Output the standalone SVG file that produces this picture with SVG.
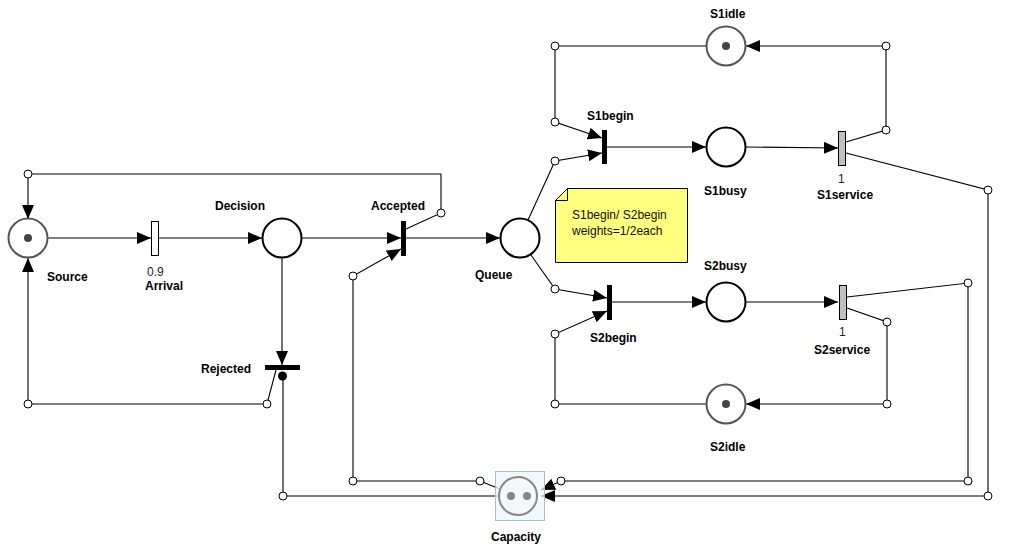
<svg xmlns="http://www.w3.org/2000/svg" width="1013" height="549" viewBox="0 0 1013 549">
  <style>
    .arc { fill: none; stroke: #000; stroke-width: 1.1; }
    .wp { fill: #fff; stroke: #000; stroke-width: 1; }
    .place { fill: #fff; stroke: #000; stroke-width: 2; }
    .marked { fill: #fff; stroke: #555; stroke-width: 2; }
    .token { fill: #444; }
    .imm { fill: #000; }
    .timed { fill: #fff; stroke: #000; stroke-width: 1; }
    .busy { fill: #c0c0c0; stroke: #000; stroke-width: 1; }
    .lbl { font-family: "Liberation Sans", Arial, sans-serif; font-size: 12px; font-weight: bold; fill: #000; }
    .num { font-family: "Liberation Sans", Arial, sans-serif; font-size: 12px; fill: #1a1a40; }
    .note { font-family: "Liberation Sans", Arial, sans-serif; font-size: 12px; fill: #111; }
  </style>
  <defs>
    <marker id="arrow" markerUnits="userSpaceOnUse" markerWidth="15" markerHeight="13" refX="14" refY="6" orient="auto">
      <path d="M0,0 L14,6 L0,12 z" fill="#000"/>
    </marker>
  </defs>
  <rect width="1013" height="549" fill="#fff"/>

  <!-- arcs -->
  <g id="connectors">
    <path class="arc" d="M48,238 L151,238" marker-end="url(#arrow)"/>
    <path class="arc" d="M159,238 L262,238" marker-end="url(#arrow)"/>
    <path class="arc" d="M302,238 L401,238" marker-end="url(#arrow)"/>
    <path class="arc" d="M282,258 L282,365" marker-end="url(#arrow)"/>
    <path class="arc" d="M276,370 L267,404 L28,404 L28,258" marker-end="url(#arrow)"/>
    <path class="arc" d="M406,229 L441,213 L441,174 L28,174 L28,219" marker-end="url(#arrow)"/>
    <path class="arc" d="M406,238 L500,238" marker-end="url(#arrow)"/>
    <path class="arc" d="M500,489 L480,481 L353,481 L353,276 L401,249" marker-end="url(#arrow)"/>
    <path class="arc" d="M528,220 L555,161 L602,153" marker-end="url(#arrow)"/>
    <path class="arc" d="M706,46 L555,46 L555,122 L602,138" marker-end="url(#arrow)"/>
    <path class="arc" d="M607,147 L706,147" marker-end="url(#arrow)"/>
    <path class="arc" d="M746,147 L838,148" marker-end="url(#arrow)"/>
    <path class="arc" d="M846,142 L886,130 L886,46 L746,46" marker-end="url(#arrow)"/>
    <path class="arc" d="M846,153 L988,190 L988,496 L541,496" marker-end="url(#arrow)"/>
    <path class="arc" d="M531,255 L555,289 L607,298" marker-end="url(#arrow)"/>
    <path class="arc" d="M706,404 L555,404 L555,334 L607,311" marker-end="url(#arrow)"/>
    <path class="arc" d="M612,302 L706,302" marker-end="url(#arrow)"/>
    <path class="arc" d="M746,302 L838,302" marker-end="url(#arrow)"/>
    <path class="arc" d="M847,308 L887,322 L887,404 L746,404" marker-end="url(#arrow)"/>
    <path class="arc" d="M847,297 L968,283 L968,481 L561,481 L541,490" marker-end="url(#arrow)"/>
    <path class="arc" d="M499,496 L283,496 L283,380"/>
    <circle cx="282.5" cy="376" r="4.5" fill="#000"/>
    <!-- bend points -->
    <circle class="wp" cx="28" cy="174" r="4"/>
    <circle class="wp" cx="441" cy="213" r="4"/>
    <circle class="wp" cx="28" cy="404" r="4"/>
    <circle class="wp" cx="267" cy="404" r="4"/>
    <circle class="wp" cx="353" cy="276" r="4"/>
    <circle class="wp" cx="353" cy="481" r="4"/>
    <circle class="wp" cx="480" cy="481" r="4"/>
    <circle class="wp" cx="283" cy="496" r="4"/>
    <circle class="wp" cx="555" cy="161" r="4"/>
    <circle class="wp" cx="555" cy="46" r="4"/>
    <circle class="wp" cx="555" cy="122" r="4"/>
    <circle class="wp" cx="886" cy="130" r="4"/>
    <circle class="wp" cx="886" cy="46" r="4"/>
    <circle class="wp" cx="988" cy="190" r="4"/>
    <circle class="wp" cx="988" cy="496" r="4"/>
    <circle class="wp" cx="555" cy="289" r="4"/>
    <circle class="wp" cx="555" cy="404" r="4"/>
    <circle class="wp" cx="555" cy="334" r="4"/>
    <circle class="wp" cx="887" cy="322" r="4"/>
    <circle class="wp" cx="887" cy="404" r="4"/>
    <circle class="wp" cx="968" cy="283" r="4"/>
    <circle class="wp" cx="968" cy="481" r="4"/>
    <circle class="wp" cx="561" cy="481" r="4"/>
  </g>

  <!-- places -->
  <g id="Source">
    <circle class="marked" cx="28" cy="238" r="19.5"/>
    <circle class="token" cx="28" cy="238" r="4"/>
    <text class="lbl" x="47" y="281">Source</text>
  </g>
  <g id="Decision">
    <circle class="place" cx="282" cy="238" r="19.5"/>
    <text class="lbl" x="215" y="210">Decision</text>
  </g>
  <g id="Queue">
    <circle class="place" cx="520" cy="238" r="19.5"/>
    <text class="lbl" x="475" y="279">Queue</text>
  </g>
  <g id="S1idle">
    <circle class="marked" cx="726" cy="46" r="19.5"/>
    <circle class="token" cx="726" cy="46" r="4"/>
    <text class="lbl" x="710" y="18">S1idle</text>
  </g>
  <g id="S1busy">
    <circle class="place" cx="726" cy="147" r="19.5"/>
    <text class="lbl" x="704" y="195">S1busy</text>
  </g>
  <g id="S2busy">
    <circle class="place" cx="726" cy="302" r="19.5"/>
    <text class="lbl" x="704" y="270">S2busy</text>
  </g>
  <g id="S2idle">
    <circle class="marked" cx="726" cy="404" r="19.5"/>
    <circle class="token" cx="726" cy="404" r="4"/>
    <text class="lbl" x="710" y="451">S2idle</text>
  </g>
  <g id="Capacity">
    <rect x="495.5" y="471.5" width="49" height="49" fill="#eef7f8" fill-opacity="0.75" stroke="#a6bec6" stroke-width="1"/>
    <circle cx="518" cy="496" r="19" fill="none" stroke="#888" stroke-width="2"/>
    <circle cx="511" cy="496" r="4" fill="#888"/>
    <circle cx="527" cy="496" r="4" fill="#888"/>
    <text class="lbl" x="491" y="541">Capacity</text>
  </g>

  <!-- transitions -->
  <g id="Arrival">
    <rect class="timed" x="151.5" y="221.5" width="7" height="34"/>
    <text class="num" x="147" y="276">0.9</text>
    <text class="lbl" x="145" y="290">Arrival</text>
  </g>
  <g id="Accepted">
    <rect class="imm" x="401" y="221" width="5" height="35"/>
    <text class="lbl" x="371" y="210">Accepted</text>
  </g>
  <g id="Rejected">
    <rect class="imm" x="265" y="365" width="35" height="5"/>
    <text class="lbl" x="201" y="373">Rejected</text>
  </g>
  <g id="S1begin">
    <rect class="imm" x="602" y="130" width="5" height="34"/>
    <text class="lbl" x="587" y="120">S1begin</text>
  </g>
  <g id="S1service">
    <rect class="busy" x="838.5" y="131.5" width="7" height="34"/>
    <text class="num" x="838" y="183">1</text>
    <text class="lbl" x="817" y="199">S1service</text>
  </g>
  <g id="S2begin">
    <rect class="imm" x="607" y="285" width="5" height="35"/>
    <text class="lbl" x="590" y="342">S2begin</text>
  </g>
  <g id="S2service">
    <rect class="busy" x="839.5" y="285.5" width="7" height="34"/>
    <text class="num" x="839" y="336">1</text>
    <text class="lbl" x="814" y="354">S2service</text>
  </g>

  <!-- annotation -->
  <g id="note">
    <path d="M567.5,188.5 L687.5,188.5 L687.5,262.5 L555.5,262.5 L555.5,200.5 Z" fill="#ffff80" stroke="#000" stroke-width="1"/>
    <path d="M555.5,200.5 L567.5,200.5 L567.5,188.5" fill="none" stroke="#000" stroke-width="1"/>
    <text class="note" x="572" y="219">S1begin/ S2begin</text>
    <text class="note" x="572" y="235">weights=1/2each</text>
  </g>
</svg>
